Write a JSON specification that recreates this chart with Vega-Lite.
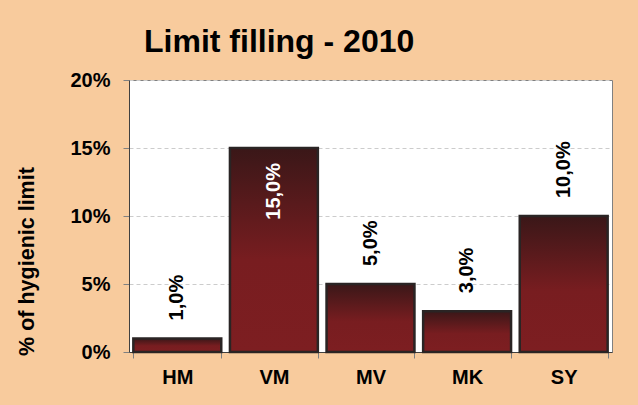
{
  "$schema": "https://vega.github.io/schema/vega-lite/v6.json",
  "width": 483,
  "height": 272,
  "autosize": {"type": "none"},
  "padding": {"left": 129, "top": 80, "right": 26, "bottom": 53},
  "background": "#F8CB9D",
  "title": {
    "text": "Limit filling - 2010",
    "anchor": "start",
    "frame": "group",
    "dx": 15,
    "dy": 30,
    "baseline": "alphabetic",
    "offset": 16,
    "font": "Liberation Sans",
    "fontSize": 32,
    "fontWeight": "bold",
    "color": "black"
  },
  "config": {
    "locale": {"number": {"decimal": ",", "thousands": ".", "grouping": [3], "currency": ["", " €"]}},
    "view": {"fill": "white", "stroke": "#808080", "strokeWidth": 1}
  },
  "data": {
    "values": [
      {"site": "HM", "value": 0.01},
      {"site": "VM", "value": 0.15},
      {"site": "MV", "value": 0.05},
      {"site": "MK", "value": 0.03},
      {"site": "SY", "value": 0.10}
    ]
  },
  "encoding": {
    "x": {
      "field": "site",
      "type": "nominal",
      "sort": null,
      "scale": {"paddingInner": 0.09},
      "axis": {
        "title": null,
        "labelAngle": 0,
        "labelFont": "Liberation Sans",
        "labelFontSize": 20,
        "labelFontWeight": "bold",
        "labelColor": "black",
        "labelPadding": 9,
        "tickSize": 6,
        "tickColor": "#808080",
        "tickBand": "extent",
        "domainColor": "#404040"
      }
    },
    "y": {
      "field": "value",
      "type": "quantitative",
      "scale": {"domain": [0, 0.2]},
      "axis": {
        "format": ".0%",
        "values": [0, 0.05, 0.1, 0.15, 0.2],
        "labelFont": "Liberation Sans",
        "labelFontSize": 20,
        "labelFontWeight": "bold",
        "labelColor": "black",
        "labelPadding": 13,
        "tickSize": 6,
        "tickColor": "#808080",
        "domainColor": "#404040",
        "gridColor": "#cccccc",
        "gridDash": [4, 3],
        "title": "% of hygienic limit",
        "titleFont": "Liberation Sans",
        "titleFontSize": 21.5,
        "titleFontWeight": "bold",
        "titleColor": "black",
        "titleAngle": -90,
        "titleX": -102,
        "titleY": 181,
        "titleAlign": "center",
        "titleBaseline": "middle"
      }
    }
  },
  "layer": [
    {
      "mark": {
        "type": "bar",
        "stroke": "#2a2424",
        "strokeWidth": 2.5,
        "fill": {
          "gradient": "linear",
          "x1": 0, "y1": 0, "x2": 0, "y2": 1,
          "stops": [
            {"offset": 0, "color": "#3a1718"},
            {"offset": 0.55, "color": "#781d20"},
            {"offset": 1, "color": "#7d1e21"}
          ]
        }
      }
    },
    {
      "transform": [{"filter": "datum.value < 0.12"}],
      "mark": {
        "type": "text",
        "angle": 270,
        "align": "left",
        "baseline": "middle",
        "dx": 18,
        "font": "Liberation Sans",
        "fontSize": 20,
        "fontWeight": "bold",
        "color": "black"
      },
      "encoding": {"text": {"field": "value", "type": "quantitative", "format": ".1%"}}
    },
    {
      "transform": [{"filter": "datum.value >= 0.12"}],
      "mark": {
        "type": "text",
        "angle": 270,
        "align": "right",
        "baseline": "middle",
        "dx": -15,
        "font": "Liberation Sans",
        "fontSize": 20,
        "fontWeight": "bold",
        "color": "white"
      },
      "encoding": {"text": {"field": "value", "type": "quantitative", "format": ".1%"}}
    }
  ]
}
